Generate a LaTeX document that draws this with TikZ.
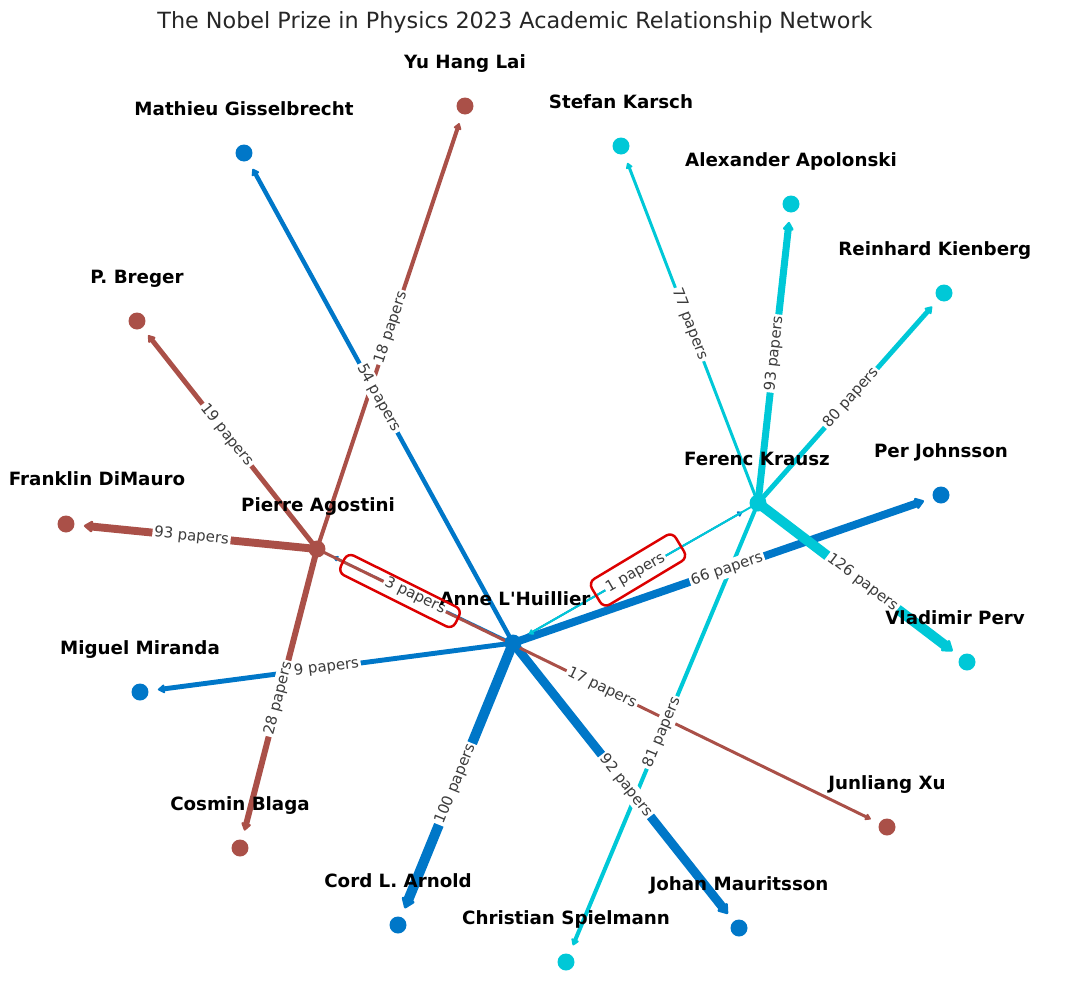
\documentclass[tikz,border=0pt]{standalone}
\usepackage{fontspec}
\setmainfont{DejaVu Sans}
\usepackage{tikz}
\usetikzlibrary{arrows.meta, positioning}
\definecolor{cbrown}{RGB}{170,80,72}
\definecolor{cblue}{RGB}{0,119,200}
\definecolor{ccyan}{RGB}{0,200,215}
\definecolor{cred}{RGB}{220,0,0}
\definecolor{ctext}{RGB}{60,60,60}
\pgfdeclarelayer{edges}
\pgfsetlayers{edges,main}

\begin{document}
\begin{tikzpicture}[
    x=0.02cm, y=-0.02cm,
    dot/.style={circle, inner sep=0pt, minimum size=0.34cm},
    who/.style={font=\fontsize{10.4}{12}\selectfont\bfseries, anchor=base, inner sep=0pt},
    link/.style={-{Triangle[round, length=2.5pt 0.7, width=2.5pt 1.1]}, shorten >=0.36cm},
    papers/.style={font=\fontsize{8.5}{10}\selectfont, text=ctext, fill=white, sloped, inner sep=1pt},
    hilite/.style={draw=cred, line width=1.4pt, rounded corners=4pt, inner sep=0pt},
]
    \useasboundingbox (0,0) rectangle (1080,981);

    % Title
    \node[font=\fontsize{12.7}{15}\selectfont, text=black!85] (title) at (515,22)
        {The Nobel Prize in Physics 2023 Academic Relationship Network};

    % Laureates
    \node[dot, fill=cblue] (lhuillier) at (513,643) {};
    \node[dot, fill=cbrown] (agostini) at (317,549) {};
    \node[dot, fill=ccyan] (krausz) at (758,503) {};

    % Co-authors
    \node[dot, fill=cbrown] (lai) at (465,106) {};
    \node[dot, fill=cbrown] (breger) at (137,321) {};
    \node[dot, fill=cbrown] (dimauro) at (66,524) {};
    \node[dot, fill=cbrown] (blaga) at (240,848) {};
    \node[dot, fill=cbrown] (xu) at (887,827) {};
    \node[dot, fill=cblue] (gisselbrecht) at (244,153) {};
    \node[dot, fill=cblue] (johnsson) at (941,495) {};
    \node[dot, fill=cblue] (miranda) at (140,692) {};
    \node[dot, fill=cblue] (arnold) at (398,925) {};
    \node[dot, fill=cblue] (mauritsson) at (739,928) {};
    \node[dot, fill=ccyan] (karsch) at (621,146) {};
    \node[dot, fill=ccyan] (apolonski) at (791,204) {};
    \node[dot, fill=ccyan] (kienberger) at (944,293) {};
    \node[dot, fill=ccyan] (pervak) at (967,662) {};
    \node[dot, fill=ccyan] (spielmann) at (566,962) {};

    \begin{pgfonlayer}{edges}
    % Agostini's links
    \draw[link, cbrown, line width=2.3pt] (agostini.center) -- (lai.center);
    \draw[link, cbrown, line width=2.8pt] (agostini.center) -- (breger.center);
    \draw[link, cbrown, line width=4.5pt] (agostini.center) -- (dimauro.center);
    \draw[link, cbrown, line width=3.4pt] (agostini.center) -- (blaga.center);

    % L'Huillier's links
    \draw[link, cblue, line width=2.5pt] (lhuillier.center) -- (gisselbrecht.center);
    \draw[link, cblue, line width=4.5pt] (lhuillier.center) -- (johnsson.center);
    \draw[link, cblue, line width=5.1pt] (lhuillier.center) -- (mauritsson.center);
    \draw[link, cblue, line width=5.7pt] (lhuillier.center) -- (arnold.center);
    \draw[link, cblue, line width=2.8pt] (lhuillier.center) -- (miranda.center);
    \draw[link, cblue, line width=1.1pt] (lhuillier.center) -- (agostini.center);
    \draw[link, cblue, line width=1.1pt] (lhuillier.center) -- (krausz.center);
    \draw[link, cbrown, line width=1.7pt] (agostini.center) -- (xu.center);

    % Krausz's links
    \draw[link, ccyan, line width=1.7pt] (krausz.center) -- (karsch.center);
    \draw[link, ccyan, line width=4pt] (krausz.center) -- (apolonski.center);
    \draw[link, ccyan, line width=2.8pt] (krausz.center) -- (kienberger.center);
    \draw[link, ccyan, line width=5.7pt] (krausz.center) -- (pervak.center);
    \draw[link, ccyan, line width=2.3pt] (krausz.center) -- (spielmann.center);
    \draw[link, ccyan, line width=1.1pt] (krausz.center) -- (lhuillier.center);

    % Paper counts
    \path (agostini.center) -- node[papers] {18 papers} (lai.center);
    \path (agostini.center) -- node[papers] {19 papers} (breger.center);
    \path (agostini.center) -- node[papers] {93 papers} (dimauro.center);
    \path (agostini.center) -- node[papers] {28 papers} (blaga.center);
    \path (agostini.center) -- node[papers] {17 papers} (xu.center);
    \path (lhuillier.center) -- node[papers] {54 papers} (gisselbrecht.center);
    \path (lhuillier.center) -- node[papers] {66 papers} (johnsson.center);
    \path (lhuillier.center) -- node[papers] {92 papers} (mauritsson.center);
    \path (lhuillier.center) -- node[papers] {100 papers} (arnold.center);
    \path (lhuillier.center) -- node[papers] {9 papers} (miranda.center);
    \path (lhuillier.center) -- node[papers] {3 papers} (agostini.center);
    \path (krausz.center) -- node[papers] {77 papers} (karsch.center);
    \path (krausz.center) -- node[papers] {93 papers} (apolonski.center);
    \path (krausz.center) -- node[papers] {80 papers} (kienberger.center);
    \path (krausz.center) -- node[papers] {126 papers} (pervak.center);
    \path (krausz.center) -- node[papers] {81 papers} (spielmann.center);
    \path (krausz.center) -- node[papers] {1 papers} (lhuillier.center);
    \end{pgfonlayer}

    % Names
    \node[who] (lhuillier-name) at (515,605) {Anne L\textquotesingle Huillier};
    \node[who] (agostini-name) at (318,511) {Pierre Agostini};
    \node[who] (krausz-name) at (757,465) {Ferenc Krausz};
    \node[who] (lai-name) at (465,68) {Yu Hang Lai};
    \node[who] (breger-name) at (137,283) {P. Breger};
    \node[who] (dimauro-name) at (97,485) {Franklin DiMauro};
    \node[who] (blaga-name) at (240,810) {Cosmin Blaga};
    \node[who] (xu-name) at (887,789) {Junliang Xu};
    \node[who] (gisselbrecht-name) at (244,115) {Mathieu Gisselbrecht};
    \node[who] (johnsson-name) at (941,457) {Per Johnsson};
    \node[who] (miranda-name) at (140,654) {Miguel Miranda};
    \node[who] (arnold-name) at (398,887) {Cord L. Arnold};
    \node[who] (mauritsson-name) at (739,890) {Johan Mauritsson};
    \node[who] (karsch-name) at (621,108) {Stefan Karsch};
    \node[who] (apolonski-name) at (791,166) {Alexander Apolonski};
    \node[who, anchor=base west] (kienberger-name) at (838,255) {Reinhard Kienberg};
    \node[who, anchor=base west] (pervak-name) at (885,624) {Vladimir Perv};
    \node[who] (spielmann-name) at (566,924) {Christian Spielmann};

    % Highlights
    \node[hilite, rotate=-26.5, minimum width=2.56cm, minimum height=0.44cm] (box3) at (400,591) {};
    \node[hilite, rotate=31, minimum width=1.96cm, minimum height=0.6cm] (box1) at (638,570) {};
\end{tikzpicture}
\end{document}
